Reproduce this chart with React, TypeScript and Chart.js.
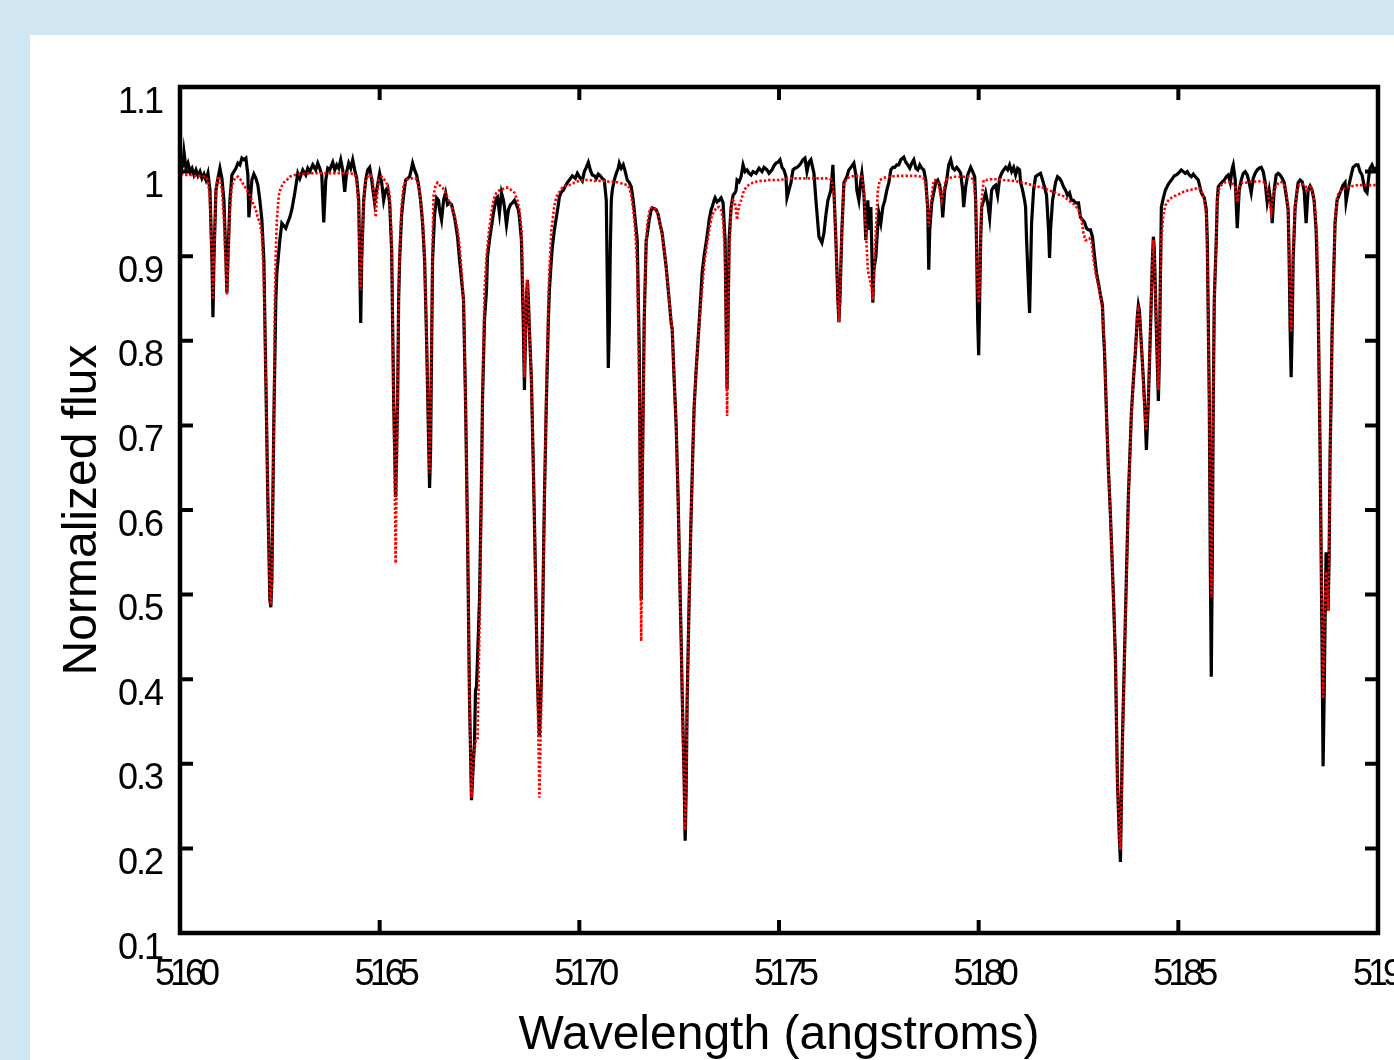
import React, { useEffect, useRef } from "react";
import { Chart, registerables } from "chart.js";

Chart.register(...registerables);

// Observed spectrum: [wavelength (Å), normalized flux]
const observedSpectrum: [number, number][] = [
  [5160.025, 1.002], [5160.075, 1.008], [5160.1, 1.023], [5160.15, 1.004], [5160.2, 1.010], [5160.25, 1.000],
  [5160.3, 1.004], [5160.35, 0.996], [5160.4, 1.002], [5160.45, 0.995], [5160.5, 1.000], [5160.55, 0.992],
  [5160.6, 0.997], [5160.65, 0.990], [5160.7, 0.998], [5160.75, 0.978], [5160.8, 0.896], [5160.825, 0.828],
  [5160.85, 0.896], [5160.9, 0.978], [5160.95, 0.992], [5161.0, 1.004], [5161.05, 0.992], [5161.1, 0.966],
  [5161.15, 0.896], [5161.175, 0.857], [5161.2, 0.896], [5161.25, 0.966], [5161.3, 0.996], [5161.35, 1.000],
  [5161.4, 1.004], [5161.45, 1.010], [5161.5, 1.008], [5161.55, 1.016], [5161.6, 1.014], [5161.65, 1.016],
  [5161.7, 0.996], [5161.725, 0.946], [5161.75, 0.961], [5161.8, 0.990], [5161.85, 0.997], [5161.9, 0.992],
  [5161.95, 0.984], [5162.0, 0.966], [5162.05, 0.943], [5162.1, 0.896], [5162.15, 0.754], [5162.2, 0.612],
  [5162.25, 0.494], [5162.275, 0.485], [5162.3, 0.517], [5162.35, 0.706], [5162.4, 0.848], [5162.425, 0.880],
  [5162.5, 0.919], [5162.55, 0.939], [5162.6, 0.936], [5162.65, 0.933], [5162.7, 0.940], [5162.75, 0.946],
  [5162.8, 0.955], [5162.875, 0.975], [5162.95, 0.998], [5163.0, 0.992], [5163.075, 1.002], [5163.15, 0.996],
  [5163.2, 1.004], [5163.25, 1.000], [5163.325, 1.008], [5163.4, 1.002], [5163.45, 1.010], [5163.5, 1.004],
  [5163.55, 0.996], [5163.6, 0.940], [5163.65, 0.990], [5163.7, 1.004], [5163.75, 1.002], [5163.825, 1.011],
  [5163.875, 1.002], [5163.925, 1.008], [5163.975, 1.004], [5164.025, 1.014], [5164.075, 1.002], [5164.125, 0.976],
  [5164.175, 1.000], [5164.225, 1.010], [5164.275, 1.004], [5164.325, 1.014], [5164.375, 1.002], [5164.425, 0.992],
  [5164.475, 0.966], [5164.5, 0.896], [5164.525, 0.821], [5164.55, 0.896], [5164.6, 0.966], [5164.65, 0.990],
  [5164.7, 1.002], [5164.75, 1.005], [5164.8, 0.990], [5164.875, 0.963], [5164.925, 0.978], [5165.0, 0.998],
  [5165.05, 0.987], [5165.1, 0.966], [5165.15, 0.978], [5165.2, 0.981], [5165.25, 0.963], [5165.3, 0.907],
  [5165.35, 0.730], [5165.4, 0.615], [5165.45, 0.730], [5165.475, 0.848], [5165.5, 0.896], [5165.55, 0.949],
  [5165.6, 0.972], [5165.65, 0.990], [5165.7, 0.992], [5165.75, 0.994], [5165.8, 1.004], [5165.825, 1.010],
  [5165.875, 1.002], [5165.925, 0.996], [5165.975, 0.984], [5166.025, 0.966], [5166.075, 0.939], [5166.125, 0.896],
  [5166.175, 0.801], [5166.225, 0.683], [5166.25, 0.626], [5166.275, 0.671], [5166.3, 0.789], [5166.325, 0.896],
  [5166.375, 0.949], [5166.425, 0.969], [5166.475, 0.966], [5166.5, 0.955], [5166.55, 0.943], [5166.6, 0.966],
  [5166.65, 0.975], [5166.7, 0.961], [5166.75, 0.963], [5166.8, 0.961], [5166.875, 0.946], [5166.95, 0.923],
  [5167.0, 0.896], [5167.05, 0.872], [5167.1, 0.848], [5167.15, 0.730], [5167.2, 0.573], [5167.25, 0.375],
  [5167.3, 0.257], [5167.35, 0.305], [5167.375, 0.325], [5167.4, 0.387], [5167.425, 0.391], [5167.475, 0.458],
  [5167.5, 0.494], [5167.55, 0.635], [5167.575, 0.730], [5167.625, 0.825], [5167.675, 0.860], [5167.7, 0.899],
  [5167.75, 0.919], [5167.8, 0.935], [5167.85, 0.951], [5167.875, 0.958], [5167.925, 0.969], [5167.95, 0.970],
  [5168.0, 0.951], [5168.05, 0.975], [5168.1, 0.966], [5168.125, 0.958], [5168.175, 0.937], [5168.225, 0.955],
  [5168.275, 0.961], [5168.325, 0.963], [5168.375, 0.966], [5168.425, 0.961], [5168.475, 0.955], [5168.5, 0.946],
  [5168.55, 0.919], [5168.6, 0.813], [5168.625, 0.742], [5168.65, 0.801], [5168.675, 0.848], [5168.7, 0.872],
  [5168.725, 0.848], [5168.75, 0.813], [5168.8, 0.754], [5168.85, 0.647], [5168.9, 0.529], [5168.95, 0.399],
  [5169.0, 0.332], [5169.05, 0.399], [5169.075, 0.455], [5169.125, 0.612], [5169.175, 0.730], [5169.225, 0.825],
  [5169.25, 0.860], [5169.3, 0.896], [5169.325, 0.911], [5169.375, 0.931], [5169.425, 0.946], [5169.475, 0.961],
  [5169.5, 0.970], [5169.55, 0.976], [5169.6, 0.978], [5169.65, 0.983], [5169.7, 0.987], [5169.75, 0.990],
  [5169.825, 0.995], [5169.9, 0.992], [5169.95, 0.998], [5170.0, 0.994], [5170.075, 0.989], [5170.125, 1.000],
  [5170.175, 1.005], [5170.225, 1.011], [5170.275, 1.002], [5170.325, 0.996], [5170.375, 0.995], [5170.425, 0.992],
  [5170.475, 0.997], [5170.525, 0.995], [5170.575, 0.992], [5170.625, 0.990], [5170.675, 0.966], [5170.7, 0.872],
  [5170.725, 0.768], [5170.75, 0.813], [5170.775, 0.907], [5170.8, 0.966], [5170.825, 0.978], [5170.875, 0.990],
  [5170.925, 0.998], [5170.975, 1.004], [5171.0, 1.010], [5171.05, 1.004], [5171.1, 1.008], [5171.15, 1.000],
  [5171.2, 0.990], [5171.25, 0.987], [5171.3, 0.982], [5171.35, 0.966], [5171.4, 0.943], [5171.45, 0.919],
  [5171.5, 0.789], [5171.525, 0.635], [5171.55, 0.494], [5171.575, 0.635], [5171.625, 0.825], [5171.675, 0.919],
  [5171.7, 0.925], [5171.75, 0.943], [5171.8, 0.955], [5171.825, 0.957], [5171.875, 0.956], [5171.925, 0.955],
  [5171.975, 0.949], [5172.025, 0.937], [5172.075, 0.927], [5172.125, 0.907], [5172.175, 0.887], [5172.25, 0.848],
  [5172.3, 0.821], [5172.325, 0.814], [5172.375, 0.754], [5172.425, 0.700], [5172.475, 0.612], [5172.5, 0.553],
  [5172.55, 0.446], [5172.575, 0.384], [5172.625, 0.281], [5172.65, 0.209], [5172.675, 0.269], [5172.7, 0.375],
  [5172.75, 0.494], [5172.8, 0.595], [5172.85, 0.683], [5172.875, 0.722], [5172.925, 0.765], [5173.0, 0.821],
  [5173.05, 0.860], [5173.075, 0.880], [5173.125, 0.901], [5173.175, 0.916], [5173.225, 0.933], [5173.25, 0.943],
  [5173.3, 0.955], [5173.325, 0.958], [5173.375, 0.966], [5173.4, 0.969], [5173.45, 0.964], [5173.5, 0.966],
  [5173.55, 0.969], [5173.6, 0.963], [5173.65, 0.919], [5173.675, 0.825], [5173.7, 0.743], [5173.725, 0.825],
  [5173.75, 0.919], [5173.8, 0.958], [5173.85, 0.972], [5173.9, 0.975], [5173.925, 0.978], [5173.95, 0.990],
  [5174.0, 0.988], [5174.05, 0.994], [5174.1, 1.008], [5174.15, 1.000], [5174.2, 1.002], [5174.25, 0.998],
  [5174.3, 0.996], [5174.35, 1.000], [5174.425, 0.998], [5174.5, 1.004], [5174.575, 1.000], [5174.625, 1.005],
  [5174.7, 1.002], [5174.75, 0.998], [5174.825, 1.002], [5174.875, 1.007], [5174.925, 1.010], [5174.975, 1.011],
  [5175.025, 1.014], [5175.075, 1.005], [5175.125, 1.002], [5175.175, 0.994], [5175.2, 0.969], [5175.25, 0.978],
  [5175.3, 0.987], [5175.35, 1.002], [5175.4, 1.004], [5175.45, 1.005], [5175.5, 1.007], [5175.55, 1.010],
  [5175.6, 1.014], [5175.65, 1.016], [5175.7, 1.000], [5175.75, 1.011], [5175.8, 1.014], [5175.875, 0.998],
  [5175.925, 0.966], [5176.0, 0.923], [5176.075, 0.916], [5176.125, 0.927], [5176.175, 0.949], [5176.225, 0.966],
  [5176.3, 0.978], [5176.35, 1.008], [5176.375, 0.978], [5176.425, 0.919], [5176.475, 0.848], [5176.5, 0.822],
  [5176.525, 0.848], [5176.575, 0.931], [5176.625, 0.987], [5176.7, 0.994], [5176.75, 1.002], [5176.8, 1.005],
  [5176.875, 1.010], [5176.925, 0.996], [5176.95, 0.978], [5177.0, 0.966], [5177.05, 0.990], [5177.075, 0.998],
  [5177.125, 0.975], [5177.175, 0.919], [5177.2, 0.949], [5177.225, 0.966], [5177.25, 0.931], [5177.3, 0.958],
  [5177.325, 0.907], [5177.35, 0.845], [5177.375, 0.884], [5177.425, 0.899], [5177.475, 0.937], [5177.5, 0.951],
  [5177.55, 0.939], [5177.6, 0.958], [5177.65, 0.966], [5177.7, 0.978], [5177.75, 0.987], [5177.8, 1.002],
  [5177.85, 1.005], [5177.9, 1.005], [5177.95, 1.008], [5178.0, 1.008], [5178.05, 1.014], [5178.1, 1.016],
  [5178.125, 1.017], [5178.175, 1.011], [5178.225, 1.008], [5178.275, 1.004], [5178.325, 1.010], [5178.375, 1.014],
  [5178.425, 1.004], [5178.475, 1.002], [5178.525, 1.008], [5178.575, 1.004], [5178.625, 1.002], [5178.675, 0.990],
  [5178.725, 0.955], [5178.75, 0.884], [5178.775, 0.931], [5178.825, 0.963], [5178.875, 0.975], [5178.925, 0.987],
  [5178.975, 0.990], [5179.025, 0.984], [5179.075, 0.966], [5179.1, 0.946], [5179.15, 0.978], [5179.2, 0.990],
  [5179.25, 1.008], [5179.3, 1.014], [5179.35, 1.004], [5179.4, 1.002], [5179.45, 1.005], [5179.5, 1.002],
  [5179.55, 0.998], [5179.6, 0.978], [5179.625, 0.958], [5179.675, 0.982], [5179.725, 0.996], [5179.8, 1.005],
  [5179.85, 1.000], [5179.9, 0.994], [5179.925, 0.966], [5179.95, 0.907], [5179.975, 0.825], [5180.0, 0.783],
  [5180.025, 0.848], [5180.05, 0.919], [5180.075, 0.958], [5180.125, 0.966], [5180.175, 0.975], [5180.225, 0.963],
  [5180.275, 0.945], [5180.325, 0.978], [5180.375, 0.982], [5180.425, 0.984], [5180.475, 0.972], [5180.525, 0.992],
  [5180.575, 0.998], [5180.625, 1.002], [5180.675, 1.005], [5180.725, 1.002], [5180.775, 1.008], [5180.825, 1.000],
  [5180.875, 1.005], [5180.925, 0.996], [5180.975, 1.004], [5181.025, 1.002], [5181.05, 0.987], [5181.1, 0.978],
  [5181.15, 0.966], [5181.175, 0.958], [5181.2, 0.919], [5181.25, 0.860], [5181.275, 0.833], [5181.3, 0.884],
  [5181.325, 0.939], [5181.375, 0.978], [5181.425, 0.994], [5181.475, 0.996], [5181.55, 0.998], [5181.6, 0.990],
  [5181.65, 0.982], [5181.7, 0.972], [5181.75, 0.931], [5181.775, 0.898], [5181.8, 0.931], [5181.85, 0.966],
  [5181.925, 0.987], [5181.975, 0.994], [5182.025, 0.992], [5182.075, 0.988], [5182.125, 0.982], [5182.175, 0.978],
  [5182.225, 0.972], [5182.275, 0.975], [5182.325, 0.966], [5182.375, 0.966], [5182.425, 0.963], [5182.5, 0.963],
  [5182.55, 0.946], [5182.6, 0.943], [5182.65, 0.940], [5182.7, 0.933], [5182.75, 0.931], [5182.8, 0.931],
  [5182.85, 0.923], [5182.9, 0.901], [5182.95, 0.880], [5183.0, 0.868], [5183.05, 0.854], [5183.1, 0.842],
  [5183.125, 0.810], [5183.15, 0.789], [5183.2, 0.715], [5183.25, 0.647], [5183.3, 0.594], [5183.375, 0.497],
  [5183.425, 0.425], [5183.475, 0.280], [5183.525, 0.210], [5183.55, 0.184], [5183.575, 0.257], [5183.6, 0.328],
  [5183.675, 0.474], [5183.75, 0.618], [5183.825, 0.715], [5183.875, 0.754], [5183.925, 0.787], [5183.975, 0.830],
  [5184.0, 0.842], [5184.025, 0.836], [5184.075, 0.795], [5184.125, 0.754], [5184.175, 0.706], [5184.2, 0.671],
  [5184.25, 0.730], [5184.3, 0.810], [5184.35, 0.896], [5184.375, 0.923], [5184.4, 0.907], [5184.45, 0.813],
  [5184.5, 0.729], [5184.525, 0.777], [5184.55, 0.872], [5184.575, 0.958], [5184.625, 0.969], [5184.675, 0.978],
  [5184.725, 0.983], [5184.775, 0.987], [5184.825, 0.990], [5184.9, 0.995], [5184.95, 0.996], [5185.0, 0.998],
  [5185.075, 1.002], [5185.125, 1.000], [5185.175, 0.998], [5185.225, 1.000], [5185.275, 0.996], [5185.325, 0.994],
  [5185.375, 0.997], [5185.425, 0.994], [5185.5, 0.990], [5185.575, 0.975], [5185.65, 0.969], [5185.7, 0.955],
  [5185.725, 0.919], [5185.775, 0.730], [5185.8, 0.541], [5185.825, 0.403], [5185.85, 0.541], [5185.875, 0.730],
  [5185.9, 0.848], [5185.95, 0.919], [5185.975, 0.966], [5186.0, 0.982], [5186.05, 0.985], [5186.1, 0.988],
  [5186.15, 0.990], [5186.2, 0.994], [5186.25, 0.996], [5186.3, 0.987], [5186.35, 1.004], [5186.375, 1.008],
  [5186.425, 0.990], [5186.475, 0.933], [5186.525, 0.978], [5186.575, 0.990], [5186.625, 0.998], [5186.675, 1.000],
  [5186.725, 0.996], [5186.775, 0.987], [5186.825, 0.975], [5186.875, 0.992], [5186.925, 0.998], [5186.975, 1.002],
  [5187.025, 1.004], [5187.075, 1.005], [5187.125, 1.000], [5187.175, 0.987], [5187.225, 0.964], [5187.275, 0.978],
  [5187.325, 0.961], [5187.35, 0.939], [5187.4, 0.978], [5187.45, 0.996], [5187.5, 0.998], [5187.55, 0.996],
  [5187.6, 0.992], [5187.65, 0.987], [5187.7, 0.972], [5187.75, 0.955], [5187.775, 0.896], [5187.8, 0.813],
  [5187.825, 0.757], [5187.85, 0.813], [5187.875, 0.896], [5187.925, 0.958], [5187.975, 0.978], [5188.0, 0.987],
  [5188.05, 0.990], [5188.1, 0.988], [5188.15, 0.978], [5188.2, 0.939], [5188.25, 0.978], [5188.3, 0.983],
  [5188.35, 0.978], [5188.4, 0.966], [5188.45, 0.931], [5188.5, 0.848], [5188.55, 0.671], [5188.6, 0.435],
  [5188.625, 0.297], [5188.65, 0.375], [5188.675, 0.470], [5188.7, 0.550], [5188.725, 0.541], [5188.75, 0.481],
  [5188.775, 0.541], [5188.8, 0.666], [5188.825, 0.730], [5188.85, 0.810], [5188.9, 0.896], [5188.925, 0.939],
  [5188.975, 0.966], [5189.025, 0.972], [5189.075, 0.978], [5189.125, 0.984], [5189.175, 0.987], [5189.2, 0.964],
  [5189.25, 0.978], [5189.3, 0.990], [5189.375, 1.005], [5189.45, 1.008], [5189.5, 1.008], [5189.55, 1.000],
  [5189.6, 0.996], [5189.65, 0.984], [5189.675, 0.978], [5189.725, 0.975], [5189.775, 0.996], [5189.8, 1.004],
  [5189.85, 1.008], [5189.9, 1.002], [5189.95, 1.004], [5190.05, 1.002],
];

// Synthetic (model) spectrum: [wavelength (Å), normalized flux]
const modelSpectrum: [number, number][] = [
  [5160.025, 0.998], [5160.125, 0.996], [5160.25, 0.996], [5160.375, 0.995], [5160.5, 0.995], [5160.625, 0.994],
  [5160.7, 0.990], [5160.75, 0.966], [5160.8, 0.896], [5160.825, 0.849], [5160.85, 0.896], [5160.9, 0.978],
  [5160.95, 0.994], [5161.0, 0.992], [5161.05, 0.978], [5161.1, 0.943], [5161.15, 0.884], [5161.175, 0.854],
  [5161.2, 0.884], [5161.25, 0.955], [5161.3, 0.984], [5161.375, 0.992], [5161.45, 0.994], [5161.525, 0.990],
  [5161.6, 0.984], [5161.675, 0.978], [5161.75, 0.972], [5161.825, 0.963], [5161.9, 0.955], [5161.95, 0.945],
  [5162.0, 0.940], [5162.05, 0.925], [5162.1, 0.872], [5162.15, 0.754], [5162.2, 0.612], [5162.25, 0.500],
  [5162.275, 0.488], [5162.3, 0.517], [5162.35, 0.706], [5162.375, 0.848], [5162.4, 0.907], [5162.425, 0.943],
  [5162.475, 0.972], [5162.525, 0.981], [5162.6, 0.987], [5162.675, 0.990], [5162.75, 0.994], [5162.875, 0.996],
  [5163.0, 0.997], [5163.25, 0.998], [5163.5, 0.998], [5163.75, 0.998], [5164.0, 0.998], [5164.25, 0.998],
  [5164.375, 0.997], [5164.425, 0.990], [5164.475, 0.955], [5164.5, 0.896], [5164.525, 0.860], [5164.55, 0.896],
  [5164.6, 0.966], [5164.65, 0.990], [5164.7, 0.994], [5164.775, 0.996], [5164.825, 0.990], [5164.875, 0.966],
  [5164.9, 0.946], [5164.925, 0.966], [5164.975, 0.990], [5165.05, 0.994], [5165.125, 0.990], [5165.2, 0.984],
  [5165.25, 0.972], [5165.3, 0.919], [5165.35, 0.730], [5165.4, 0.537], [5165.45, 0.730], [5165.475, 0.848],
  [5165.5, 0.907], [5165.55, 0.960], [5165.6, 0.984], [5165.675, 0.990], [5165.75, 0.992], [5165.825, 0.992],
  [5165.9, 0.992], [5165.975, 0.984], [5166.025, 0.966], [5166.075, 0.943], [5166.125, 0.896], [5166.175, 0.801],
  [5166.225, 0.694], [5166.25, 0.644], [5166.275, 0.694], [5166.3, 0.813], [5166.325, 0.919], [5166.35, 0.972],
  [5166.4, 0.984], [5166.45, 0.987], [5166.5, 0.984], [5166.575, 0.981], [5166.65, 0.975], [5166.725, 0.966],
  [5166.8, 0.958], [5166.875, 0.949], [5166.95, 0.931], [5167.0, 0.913], [5167.05, 0.884], [5167.1, 0.848],
  [5167.15, 0.730], [5167.2, 0.573], [5167.25, 0.375], [5167.3, 0.260], [5167.35, 0.305], [5167.4, 0.326],
  [5167.425, 0.328], [5167.45, 0.328], [5167.475, 0.387], [5167.5, 0.458], [5167.525, 0.541], [5167.55, 0.612],
  [5167.575, 0.730], [5167.625, 0.860], [5167.675, 0.899], [5167.725, 0.925], [5167.775, 0.943], [5167.825, 0.960],
  [5167.875, 0.970], [5167.925, 0.975], [5168.0, 0.978], [5168.075, 0.979], [5168.15, 0.981], [5168.225, 0.981],
  [5168.3, 0.978], [5168.375, 0.975], [5168.45, 0.966], [5168.5, 0.955], [5168.55, 0.931], [5168.6, 0.848],
  [5168.625, 0.757], [5168.65, 0.801], [5168.675, 0.848], [5168.7, 0.872], [5168.725, 0.848], [5168.75, 0.813],
  [5168.8, 0.754], [5168.85, 0.647], [5168.9, 0.529], [5168.95, 0.399], [5169.0, 0.260], [5169.05, 0.375],
  [5169.075, 0.446], [5169.125, 0.612], [5169.175, 0.742], [5169.225, 0.848], [5169.25, 0.884], [5169.3, 0.931],
  [5169.375, 0.960], [5169.425, 0.970], [5169.5, 0.976], [5169.575, 0.981], [5169.65, 0.983], [5169.75, 0.984],
  [5169.875, 0.987], [5170.0, 0.989], [5170.125, 0.990], [5170.25, 0.990], [5170.375, 0.989], [5170.5, 0.989],
  [5170.625, 0.989], [5170.75, 0.988], [5170.875, 0.988], [5171.0, 0.987], [5171.125, 0.985], [5171.2, 0.984],
  [5171.25, 0.981], [5171.3, 0.972], [5171.35, 0.955], [5171.4, 0.931], [5171.45, 0.884], [5171.5, 0.754],
  [5171.525, 0.588], [5171.55, 0.445], [5171.575, 0.588], [5171.625, 0.825], [5171.675, 0.919], [5171.7, 0.937],
  [5171.75, 0.952], [5171.8, 0.957], [5171.825, 0.958], [5171.875, 0.957], [5171.925, 0.955], [5171.975, 0.949],
  [5172.025, 0.937], [5172.075, 0.925], [5172.125, 0.907], [5172.175, 0.887], [5172.25, 0.848], [5172.3, 0.825],
  [5172.325, 0.814], [5172.375, 0.754], [5172.425, 0.700], [5172.475, 0.612], [5172.5, 0.553], [5172.55, 0.446],
  [5172.575, 0.384], [5172.625, 0.269], [5172.65, 0.222], [5172.675, 0.269], [5172.7, 0.375], [5172.75, 0.494],
  [5172.8, 0.595], [5172.85, 0.683], [5172.875, 0.722], [5172.925, 0.765], [5173.0, 0.817], [5173.05, 0.848],
  [5173.075, 0.860], [5173.125, 0.890], [5173.175, 0.907], [5173.225, 0.923], [5173.275, 0.937], [5173.325, 0.949],
  [5173.4, 0.955], [5173.45, 0.958], [5173.5, 0.958], [5173.55, 0.955], [5173.6, 0.943], [5173.65, 0.896],
  [5173.675, 0.801], [5173.7, 0.711], [5173.725, 0.801], [5173.75, 0.896], [5173.8, 0.955], [5173.85, 0.966],
  [5173.9, 0.963], [5173.95, 0.943], [5174.0, 0.960], [5174.05, 0.966], [5174.125, 0.978], [5174.2, 0.983],
  [5174.275, 0.985], [5174.35, 0.987], [5174.425, 0.988], [5174.5, 0.989], [5174.625, 0.989], [5174.75, 0.990],
  [5175.0, 0.990], [5175.125, 0.991], [5175.25, 0.992], [5175.5, 0.992], [5175.75, 0.992], [5176.0, 0.992],
  [5176.25, 0.992], [5176.325, 0.990], [5176.375, 0.972], [5176.425, 0.919], [5176.475, 0.848], [5176.5, 0.822],
  [5176.525, 0.848], [5176.575, 0.931], [5176.625, 0.984], [5176.7, 0.992], [5176.8, 0.994], [5176.9, 0.995],
  [5177.0, 0.995], [5177.075, 0.994], [5177.125, 0.978], [5177.175, 0.931], [5177.225, 0.884], [5177.275, 0.872],
  [5177.325, 0.860], [5177.35, 0.848], [5177.375, 0.872], [5177.425, 0.931], [5177.475, 0.978], [5177.525, 0.990],
  [5177.6, 0.992], [5177.7, 0.994], [5177.8, 0.994], [5177.925, 0.995], [5178.05, 0.995], [5178.175, 0.995],
  [5178.3, 0.995], [5178.425, 0.995], [5178.55, 0.994], [5178.625, 0.992], [5178.675, 0.984], [5178.725, 0.955],
  [5178.75, 0.935], [5178.775, 0.949], [5178.825, 0.972], [5178.875, 0.990], [5178.925, 0.990], [5178.975, 0.987],
  [5179.025, 0.978], [5179.075, 0.966], [5179.125, 0.978], [5179.175, 0.990], [5179.25, 0.992], [5179.375, 0.994],
  [5179.5, 0.994], [5179.625, 0.994], [5179.75, 0.994], [5179.825, 0.992], [5179.875, 0.990], [5179.925, 0.966],
  [5179.95, 0.919], [5179.975, 0.860], [5180.0, 0.845], [5180.025, 0.860], [5180.05, 0.919], [5180.075, 0.966],
  [5180.125, 0.990], [5180.2, 0.990], [5180.3, 0.991], [5180.5, 0.991], [5180.625, 0.990], [5180.875, 0.989],
  [5181.0, 0.988], [5181.125, 0.987], [5181.25, 0.985], [5181.375, 0.984], [5181.5, 0.982], [5181.625, 0.981],
  [5181.75, 0.978], [5181.875, 0.976], [5182.0, 0.973], [5182.125, 0.971], [5182.25, 0.966], [5182.375, 0.962],
  [5182.5, 0.955], [5182.575, 0.943], [5182.625, 0.927], [5182.675, 0.919], [5182.725, 0.919], [5182.775, 0.921],
  [5182.825, 0.917], [5182.875, 0.896], [5182.925, 0.881], [5183.0, 0.864], [5183.05, 0.852], [5183.1, 0.836],
  [5183.15, 0.795], [5183.2, 0.715], [5183.25, 0.647], [5183.3, 0.594], [5183.375, 0.497], [5183.425, 0.423],
  [5183.475, 0.281], [5183.525, 0.210], [5183.55, 0.198], [5183.575, 0.245], [5183.6, 0.322], [5183.675, 0.470],
  [5183.75, 0.612], [5183.825, 0.712], [5183.875, 0.754], [5183.925, 0.789], [5183.975, 0.829], [5184.0, 0.836],
  [5184.025, 0.830], [5184.075, 0.795], [5184.125, 0.748], [5184.175, 0.700], [5184.2, 0.694], [5184.25, 0.736],
  [5184.3, 0.813], [5184.35, 0.896], [5184.375, 0.919], [5184.4, 0.901], [5184.45, 0.813], [5184.5, 0.742],
  [5184.525, 0.789], [5184.55, 0.860], [5184.575, 0.919], [5184.625, 0.949], [5184.675, 0.960], [5184.75, 0.966],
  [5184.825, 0.969], [5184.9, 0.971], [5185.0, 0.973], [5185.125, 0.976], [5185.25, 0.978], [5185.375, 0.979],
  [5185.5, 0.981], [5185.575, 0.978], [5185.65, 0.966], [5185.7, 0.949], [5185.725, 0.907], [5185.775, 0.730],
  [5185.8, 0.588], [5185.825, 0.497], [5185.85, 0.588], [5185.875, 0.730], [5185.9, 0.848], [5185.95, 0.919],
  [5185.975, 0.966], [5186.025, 0.981], [5186.075, 0.984], [5186.15, 0.987], [5186.25, 0.988], [5186.35, 0.987],
  [5186.425, 0.982], [5186.475, 0.964], [5186.525, 0.982], [5186.6, 0.987], [5186.7, 0.987], [5186.8, 0.988],
  [5186.9, 0.988], [5187.0, 0.989], [5187.1, 0.988], [5187.175, 0.987], [5187.225, 0.978], [5187.275, 0.966],
  [5187.325, 0.952], [5187.375, 0.972], [5187.45, 0.984], [5187.55, 0.988], [5187.625, 0.987], [5187.7, 0.978],
  [5187.75, 0.955], [5187.775, 0.907], [5187.8, 0.848], [5187.825, 0.810], [5187.85, 0.848], [5187.875, 0.907],
  [5187.925, 0.958], [5187.975, 0.978], [5188.025, 0.984], [5188.1, 0.985], [5188.175, 0.984], [5188.225, 0.978],
  [5188.275, 0.982], [5188.325, 0.982], [5188.375, 0.972], [5188.425, 0.955], [5188.475, 0.919], [5188.5, 0.860],
  [5188.55, 0.671], [5188.6, 0.470], [5188.625, 0.377], [5188.65, 0.435], [5188.675, 0.494], [5188.7, 0.527],
  [5188.725, 0.505], [5188.75, 0.481], [5188.775, 0.541], [5188.8, 0.666], [5188.825, 0.730], [5188.85, 0.810],
  [5188.9, 0.896], [5188.925, 0.943], [5188.975, 0.969], [5189.025, 0.976], [5189.1, 0.978], [5189.175, 0.981],
  [5189.25, 0.982], [5189.375, 0.983], [5189.5, 0.984], [5189.75, 0.984], [5190.05, 0.984],
];

const xTickValues = [5160, 5165, 5170, 5175, 5180, 5185, 5190];
const yTickValues = [0.1, 0.2, 0.3, 0.4, 0.5, 0.6, 0.7, 0.8, 0.9, 1.0, 1.1];
const xAxisTitle = "Wavelength (angstroms)";
const yAxisTitle = "Normalized flux";

const FONT_FAMILY = '"Liberation Sans", Arial, Helvetica, sans-serif';

const formatY = (v: number) => String(Math.round(v * 10) / 10);

const framePlugin = {
  id: "frameTicksLabels",
  afterDatasetsDraw(chart: any) {
    const { ctx, chartArea: a, scales } = chart;
    const xs = scales.x;
    const ys = scales.y;
    ctx.save();
    ctx.strokeStyle = "#000";
    ctx.lineCap = "butt";
    ctx.lineWidth = 4;
    ctx.beginPath();
    for (const v of xTickValues) {
      const x = xs.getPixelForValue(v);
      ctx.moveTo(x, a.bottom);
      ctx.lineTo(x, a.bottom - 13);
      ctx.moveTo(x, a.top);
      ctx.lineTo(x, a.top + 13);
    }
    for (const v of yTickValues) {
      const y = ys.getPixelForValue(v);
      ctx.moveTo(a.left, y);
      ctx.lineTo(a.left + 13, y);
      ctx.moveTo(a.right, y);
      ctx.lineTo(a.right - 13, y);
    }
    ctx.stroke();
    ctx.lineWidth = 4.5;
    ctx.lineJoin = "miter";
    ctx.strokeRect(a.left, a.top, a.right - a.left, a.bottom - a.top);

    // tick labels (tightly spaced, as in the original figure)
    ctx.fillStyle = "#000";
    ctx.font = `36px ${FONT_FAMILY}`;
    ctx.textBaseline = "alphabetic";
    ctx.textAlign = "center";
    (ctx as any).letterSpacing = "-5px";
    for (const v of xTickValues) {
      const x = xs.getPixelForValue(v);
      ctx.fillText(String(v), x + 5, a.bottom + 52);
    }
    ctx.textAlign = "right";
    (ctx as any).letterSpacing = "-2px";
    for (const v of yTickValues) {
      const y = ys.getPixelForValue(v);
      ctx.fillText(formatY(v), a.left - 18, y + 25.5);
    }
    (ctx as any).letterSpacing = "0px";
    ctx.restore();
  },
};

export default function App() {
  const canvasRef = useRef<HTMLCanvasElement | null>(null);

  useEffect(() => {
    const canvas = canvasRef.current;
    if (!canvas) return;
    const chart = new Chart(canvas, {
      type: "line",
      data: {
        datasets: [
          {
            label: "Model",
            data: modelSpectrum.map(([x, y]) => ({ x, y })),
            borderColor: "#ff0000",
            borderWidth: 2.6,
            borderDash: [2.4, 2],
            pointRadius: 0,
            tension: 0,
            fill: false,
            order: 0,
          },
          {
            label: "Observed",
            data: observedSpectrum.map(([x, y]) => ({ x, y })),
            borderColor: "#000000",
            borderWidth: 3.2,
            pointRadius: 0,
            tension: 0,
            fill: false,
            order: 1,
          },
        ],
      },
      options: {
        responsive: false,
        animation: false,
        devicePixelRatio: 1,
        layout: { padding: { left: 0, top: 52, right: 72, bottom: 0 } },
        plugins: {
          legend: { display: false },
          tooltip: { enabled: false },
          title: { display: false },
        },
        events: [],
        scales: {
          x: {
            type: "linear",
            min: 5160,
            max: 5190,
            grid: { display: false, drawTicks: false },
            border: { display: false },
            afterFit(scale: any) {
              scale.height = 162;
            },
            afterBuildTicks(scale: any) {
              scale.ticks = xTickValues.map((v) => ({ value: v }));
            },
            ticks: { display: false },
            title: {
              display: true,
              text: xAxisTitle,
              color: "#000",
              font: { family: FONT_FAMILY, size: 48 },
              padding: { top: 0, bottom: 30 },
            },
          },
          y: {
            type: "linear",
            min: 0.1,
            max: 1.1,
            grid: { display: false, drawTicks: false },
            border: { display: false },
            afterFit(scale: any) {
              scale.width = 150;
            },
            afterBuildTicks(scale: any) {
              scale.ticks = yTickValues.map((v) => ({ value: v }));
            },
            ticks: { display: false },
            title: {
              display: true,
              text: yAxisTitle,
              color: "#000",
              font: { family: FONT_FAMILY, size: 48 },
              padding: { top: 24, bottom: 0 },
            },
          },
        },
      },
      plugins: [framePlugin],
    } as any);
    return () => chart.destroy();
  }, []);

  return (
    <div
      style={{
        position: "fixed",
        left: 0,
        top: 0,
        width: 1394,
        height: 1060,
        background: "#d0e6f2",
        overflow: "hidden",
      }}
    >
      <div
        style={{
          position: "absolute",
          left: 30,
          top: 35,
          width: 1420,
          height: 1060,
          background: "#ffffff",
        }}
      >
        <canvas
          ref={canvasRef}
          width={1420}
          height={1060}
          style={{ display: "block", width: 1420, height: 1060 }}
        />
      </div>
    </div>
  );
}
